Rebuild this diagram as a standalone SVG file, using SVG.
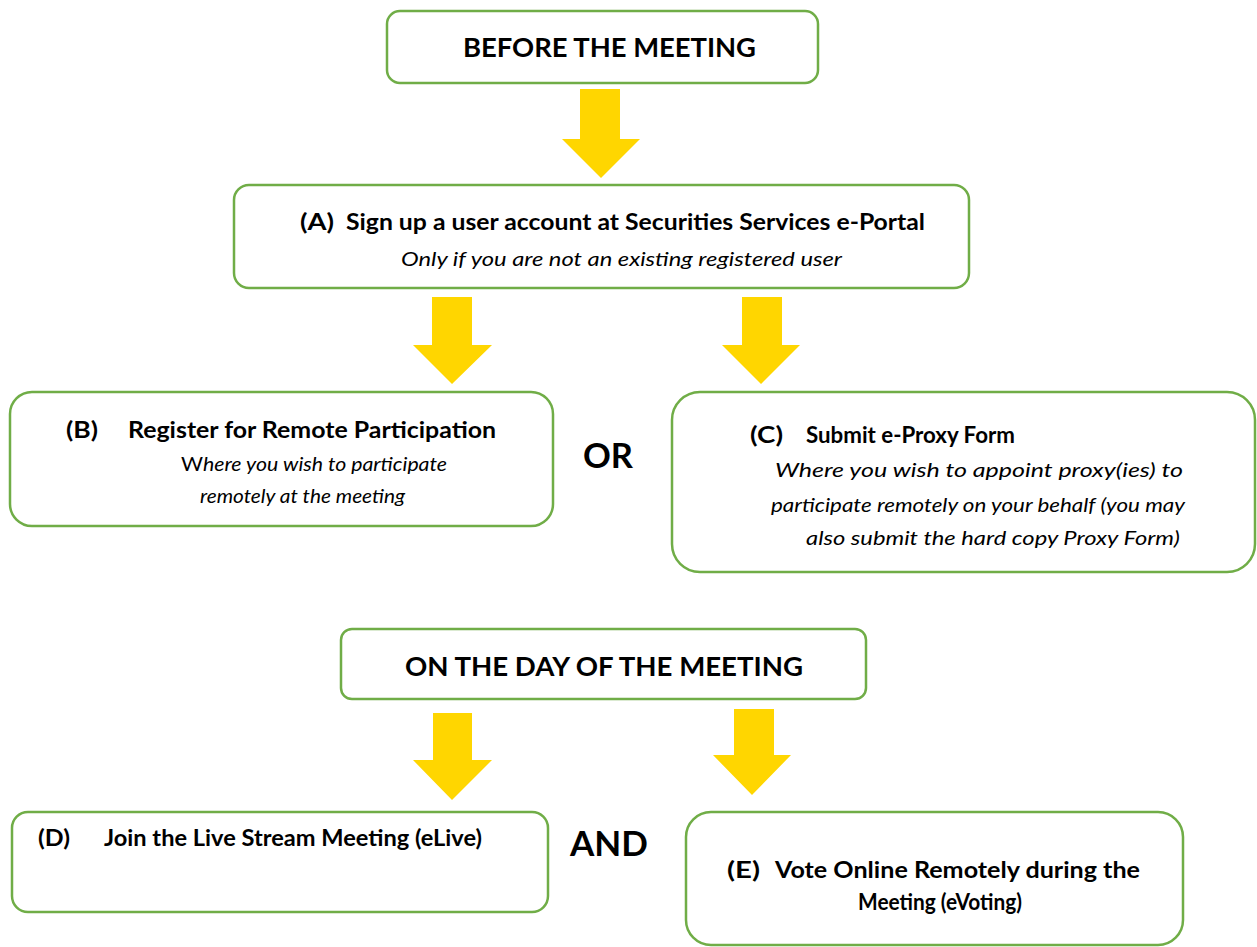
<svg xmlns="http://www.w3.org/2000/svg" width="1257" height="947" viewBox="0 0 1257 947">
<style>
.box{fill:#fff;stroke:#70AD47;stroke-width:2.5}
.arrow{fill:#FFD600}
text{font-family:Lato,"Liberation Sans","DejaVu Sans",sans-serif;fill:#000}
.h{font-weight:bold;font-size:26px}
.t{font-weight:bold;font-size:22px}
.i{font-style:italic;font-size:20px}
.big{font-weight:bold;font-size:35px}
</style>
<rect width="1257" height="947" fill="#fff"/>
<g id="connectors">
<polygon class="arrow" points="580,89 620,89 620,139 640,139 601,178 562,139 580,139"/>
<polygon class="arrow" points="432,297 472,297 472,345 492,345 452,384 413,345 432,345"/>
<polygon class="arrow" points="742,297 782,297 782,345 800,345 761,384 722,345 742,345"/>
<polygon class="arrow" points="433,713 472,713 472,760 492,760 452,800 413,760 433,760"/>
<polygon class="arrow" points="734,709 774,709 774,755 791,755 752,795 713,755 734,755"/>
</g>
<g id="before">
<rect class="box" x="387" y="11" width="431" height="72" rx="13"/>
<text class="h" x="463" y="57" textLength="293" lengthAdjust="spacingAndGlyphs">BEFORE THE MEETING</text>
</g>
<g id="nodeA">
<rect class="box" x="234" y="185" width="735" height="103" rx="15"/>
<text class="t" x="300" y="230" textLength="34" lengthAdjust="spacingAndGlyphs">(A)</text>
<text class="t" x="346" y="230" textLength="579" lengthAdjust="spacingAndGlyphs">Sign up a user account at Securities Services e-Portal</text>
<text class="i" x="401" y="266" textLength="441" lengthAdjust="spacingAndGlyphs">Only if you are not an existing registered user</text>
</g>
<g id="nodeB">
<rect class="box" x="10" y="392" width="543" height="134" rx="22"/>
<text class="t" x="66" y="438" textLength="32" lengthAdjust="spacingAndGlyphs">(B)</text>
<text class="t" x="128" y="438" textLength="368" lengthAdjust="spacingAndGlyphs">Register for Remote Participation</text>
<text class="i" x="181" y="471" textLength="266" lengthAdjust="spacingAndGlyphs"><tspan font-style="normal">W</tspan>here you wish to participate</text>
<text class="i" x="200" y="503" textLength="205" lengthAdjust="spacingAndGlyphs">remotely at the meeting</text>
</g>
<g id="or">
<text class="big" x="583" y="468" textLength="50" lengthAdjust="spacingAndGlyphs">OR</text>
</g>
<g id="nodeC">
<rect class="box" x="672" y="392" width="583" height="180" rx="28"/>
<text class="t" x="750" y="443" textLength="33" lengthAdjust="spacingAndGlyphs">(C)</text>
<text class="t" x="806" y="443" textLength="209" lengthAdjust="spacingAndGlyphs">Submit e-Proxy Form</text>
<text class="i" x="775" y="477" textLength="408" lengthAdjust="spacingAndGlyphs">Where you wish to appoint proxy(ies) to</text>
<text class="i" x="771" y="512" textLength="414" lengthAdjust="spacingAndGlyphs">participate remotely on your behalf (you may</text>
<text class="i" x="806" y="545" textLength="374" lengthAdjust="spacingAndGlyphs">also submit the hard copy Proxy Form)</text>
</g>
<g id="onday">
<rect class="box" x="341" y="629" width="525" height="70" rx="11"/>
<text class="h" x="405" y="676" textLength="398" lengthAdjust="spacingAndGlyphs">ON THE DAY OF THE MEETING</text>
</g>
<g id="nodeD">
<rect class="box" x="12" y="812" width="536" height="100" rx="16"/>
<text class="t" x="38" y="846" textLength="32" lengthAdjust="spacingAndGlyphs">(D)</text>
<text class="t" x="104" y="846" textLength="378" lengthAdjust="spacingAndGlyphs">Join the Live Stream Meeting (eLive)</text>
</g>
<g id="and">
<text class="big" x="570" y="856" textLength="78" lengthAdjust="spacingAndGlyphs">AND</text>
</g>
<g id="nodeE">
<rect class="box" x="686" y="812" width="497" height="133" rx="25"/>
<text class="t" x="727" y="878" textLength="33" lengthAdjust="spacingAndGlyphs">(E)</text>
<text class="t" x="775" y="878" textLength="365" lengthAdjust="spacingAndGlyphs">Vote Online Remotely during the</text>
<text class="t" x="858" y="910" textLength="164" lengthAdjust="spacingAndGlyphs">Meeting (eVoting)</text>
</g>
</svg>
